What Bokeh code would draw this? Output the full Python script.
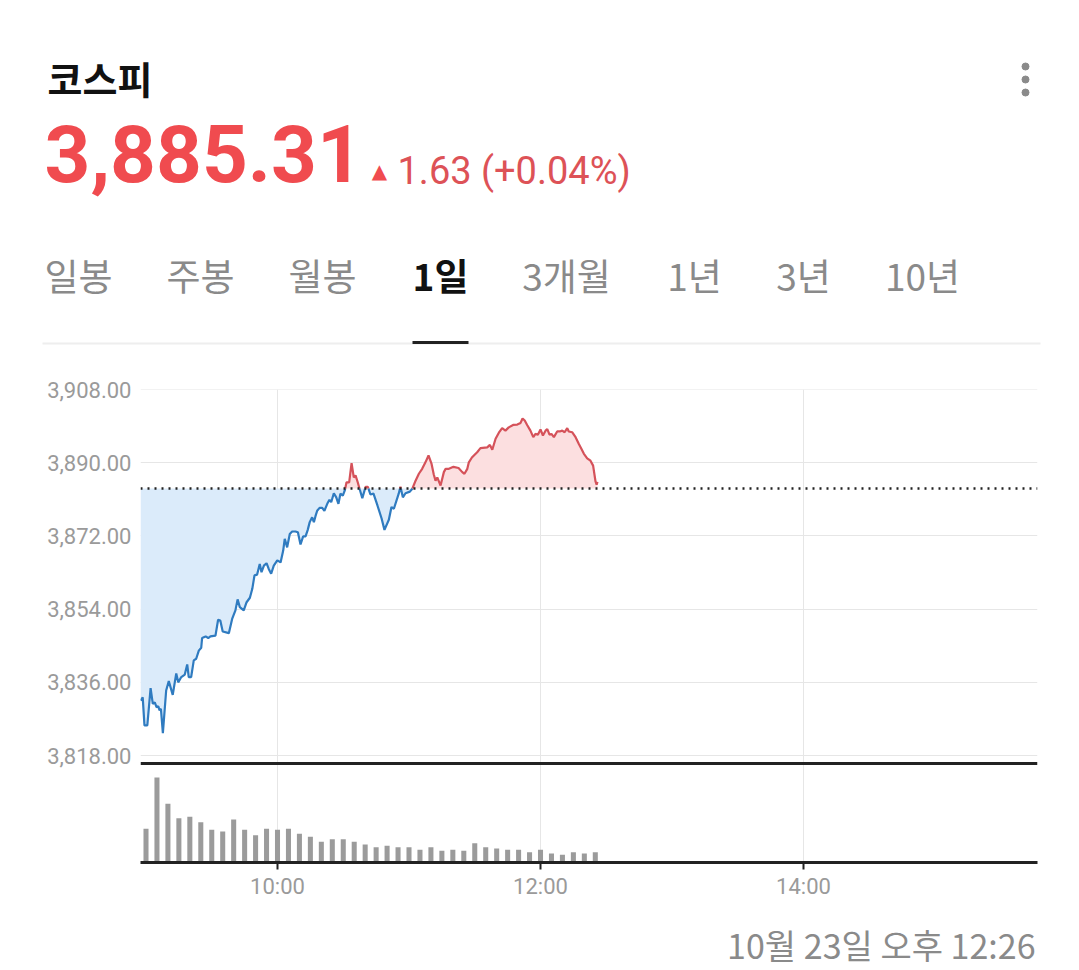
import numpy as np
from bokeh.plotting import figure
from bokeh.models import Range1d, FixedTicker, NumeralTickFormatter, Span, Label
from bokeh.embed import file_html
from bokeh.resources import INLINE

# ---------------- data ----------------
title = "코스피"
last_price = "3,885.31"
change_text = "1.63 (+0.04%)"
prev_close = 3883.68
tabs = ["일봉", "주봉", "월봉", "1일", "3개월", "1년", "3년", "10년"]
active_tab = "1일"
timestamp = "10월 23일 오후 12:26"

# minutes elapsed since 09:00 and KOSPI index level
minutes = [-2.5, -1.5, -0.7, 0.6, 2.1, 3.1, 4.0, 4.8, 5.6, 6.2, 6.8, 7.7, 9.2, 10.4, 12.2,
           13.8, 14.7, 16.1, 17.7, 18.8, 19.5, 20.6, 21.8, 22.9, 24.1, 25.2, 25.6, 27.2, 28.4,
           29.4, 31.7, 32.9, 33.9, 35.0, 37.8, 39.3, 40.8, 41.8, 42.8, 44.6, 45.9, 47.4, 48.5,
           49.5, 50.7, 51.9, 52.7, 53.8, 55.0, 56.0, 57.1, 58.3, 59.9, 61.4, 62.6, 63.3, 64.4,
           65.6, 66.7, 68.2, 69.3, 70.5, 71.7, 72.8, 73.8, 74.7, 75.8, 76.6, 77.3, 78.1, 79.2,
           80.4, 81.4, 82.7, 83.7, 84.5, 85.7, 86.8, 87.8, 88.7, 89.8, 90.7, 91.5, 92.7, 93.8,
           94.8, 95.6, 96.6, 97.6, 98.7, 100.2, 101.2, 102.4, 103.8, 105.6, 107.5, 108.8, 110.8,
           112.0, 113.1, 115.3, 116.1, 117.2, 118.4, 120.4, 121.5, 123.0, 124.5, 126.0, 127.5,
           128.9, 130.3, 131.3, 132.1, 132.9, 134.4, 135.9, 136.7, 138.2, 140.3, 142.6, 144.3,
           145.3, 146.6, 147.3, 148.7, 149.6, 151.1, 152.6, 155.7, 156.9, 158.0, 159.5, 161.0,
           162.5, 164.0, 165.5, 167.5, 169.4, 170.9, 171.8, 172.8, 173.9, 175.4, 176.7, 177.7,
           178.8, 180.0, 181.1, 182.3, 183.1, 184.1, 185.0, 186.1, 187.6, 188.8, 189.9, 191.0,
           192.2, 192.9, 194.5, 196.0, 197.5, 198.7, 199.8, 201.3, 202.8, 204.0, 205.1, 205.6,
           206.0]
price = [3831.5, 3832.3, 3825.4, 3825.4, 3834.6, 3830.7, 3831.1, 3829.9, 3830.1, 3829.1, 3829.5,
         3823.5, 3834.0, 3836.3, 3832.9, 3838.2, 3836.0, 3837.3, 3837.9, 3840.4, 3837.3, 3837.3,
         3841.4, 3841.8, 3843.8, 3844.5, 3846.9, 3847.3, 3846.9, 3847.3, 3847.5, 3851.4, 3851.2,
         3848.5, 3848.1, 3851.6, 3853.7, 3856.4, 3854.5, 3853.7, 3855.7, 3856.8, 3859.0, 3862.3,
         3862.5, 3865.1, 3863.1, 3864.7, 3865.3, 3863.9, 3862.7, 3864.7, 3866.0, 3865.5, 3868.4,
         3871.3, 3869.2, 3872.5, 3873.1, 3873.1, 3872.9, 3869.9, 3871.9, 3871.9, 3873.5, 3875.4,
         3876.6, 3875.4, 3876.8, 3878.2, 3878.9, 3878.9, 3878.2, 3879.9, 3880.9, 3880.3, 3882.5,
         3881.5, 3879.9, 3882.4, 3881.9, 3883.2, 3885.2, 3885.2, 3889.9, 3886.4, 3886.9, 3885.2,
         3883.3, 3881.3, 3884.1, 3884.1, 3882.2, 3882.4, 3879.5, 3876.3, 3873.5, 3876.0, 3879.1,
         3878.7, 3882.4, 3884.1, 3881.5, 3882.5, 3882.9, 3883.6, 3885.6, 3887.3, 3888.5, 3890.1,
         3891.8, 3889.7, 3887.1, 3885.6, 3886.4, 3884.4, 3887.7, 3888.5, 3888.5, 3889.0, 3888.7,
         3887.7, 3887.3, 3888.5, 3890.1, 3891.3, 3891.8, 3892.6, 3893.6, 3893.8, 3894.4, 3893.2,
         3895.9, 3897.4, 3898.5, 3897.9, 3898.7, 3899.3, 3899.4, 3899.8, 3900.9, 3900.4, 3899.3,
         3897.9, 3896.3, 3897.1, 3896.9, 3898.2, 3896.7, 3897.9, 3898.3, 3896.9, 3897.1, 3896.3,
         3897.7, 3897.7, 3897.9, 3897.5, 3898.5, 3897.7, 3897.5, 3896.3, 3894.6, 3893.4, 3892.2,
         3891.1, 3890.5, 3889.3, 3885.4, 3884.6, 3885.31]

# 5-minute volume buckets (minutes since 09:00), relative units
vol_minutes = [0, 5, 10, 15, 20, 25, 30, 35, 40, 45, 50, 55, 60, 65, 70, 75, 80, 85, 90, 95, 100,
               105, 110, 115, 120, 125, 130, 135, 140, 145, 150, 155, 160, 165, 170, 175, 180,
               185, 190, 195, 200, 205]
volume = [33700, 85000, 58700, 44300, 45700, 40300, 32700, 31000, 43000, 32700, 27300, 33700,
          32700, 33700, 28700, 25700, 20700, 23300, 23300, 20700, 18000, 15300, 16700, 15300,
          15300, 12700, 15300, 11700, 12700, 11700, 19300, 15300, 14000, 12700, 12700, 10300,
          12700, 9000, 7700, 10300, 9000, 10300]
volume_panel_top = 99000

y_ticks = [3818, 3836, 3854, 3872, 3890, 3908]
x_ticks = [60, 180, 300]
x_tick_labels = ["10:00", "12:00", "14:00"]

# ---------------- styles ----------------
W = 1079
KR = "Noto Sans CJK KR"
NUM = "Roboto"
RED_BIG = "#f04b4f"
RED_TXT = "#dd5257"
GRAY_TXT = "#8a8a8a"
AXIS_TXT = "#9a9a9a"
BLUE_LINE = "#2f7bc0"
BLUE_FILL = "#dbebfa"
RED_LINE = "#d5525a"
RED_FILL = "#fcdfe0"
GRID = "#e6e6e6"


def blank(top, bottom):
    f = figure(width=W, height=bottom - top, x_range=Range1d(0, W), y_range=Range1d(bottom, top),
               x_axis_location=None, y_axis_location=None, toolbar_location=None,
               output_backend="svg", min_border=0, outline_line_color=None)
    f.grid.visible = False
    f.background_fill_color = "white"
    f.border_fill_color = "white"
    return f


# ---------------- header ----------------
hd = blank(0, 370)
hd.add_layout(Label(x=47, y=77, text=title, text_font=KR, text_font_size="38px",
                    text_font_style="bold", text_color="#111111", text_align="left",
                    text_baseline="middle"))
hd.add_layout(Label(x=44, y=153, text=last_price, text_font=NUM, text_font_size="80px",
                    text_font_style="bold", text_color=RED_BIG, text_align="left",
                    text_baseline="middle"))
hd.add_layout(Label(x=379, y=170, text="▲", text_font="DejaVu Sans", text_font_size="20px",
                    text_color=RED_BIG, text_align="center", text_baseline="middle"))
hd.add_layout(Label(x=397, y=170, text=change_text, text_font=NUM, text_font_size="38px",
                    text_color=RED_TXT, text_align="left", text_baseline="middle"))
hd.scatter(x=[1025, 1025, 1025], y=[66, 79, 92], size=7, color="#8a8a8a")

tab_x = [78, 200, 322, 440, 566, 694, 803, 922]
for tx, name in zip(tab_x, tabs):
    act = name == active_tab
    hd.add_layout(Label(x=tx, y=274, text=name, text_font=KR, text_font_size="37px",
                        text_font_style="bold" if act else "normal",
                        text_color="#111111" if act else GRAY_TXT,
                        text_align="center", text_baseline="middle"))
hd.segment(x0=[42], y0=[343], x1=[1040], y1=[343], line_color="#eeeeee", line_width=2)
hd.segment(x0=[412], y0=[342], x1=[468], y1=[342], line_color="#222222", line_width=3)

# ---------------- price + volume panel ----------------
PX_PER_UNIT = 4.0667
frame_h = 473
y_top = 3908.0
p = figure(width=W, height=532, x_range=Range1d(-2.51, 406.76),
           y_range=Range1d(y_top - frame_h / PX_PER_UNIT, y_top + 0.02),
           x_axis_location="below", y_axis_location="left", toolbar_location=None,
           output_backend="svg", min_border_left=140, min_border_right=42,
           min_border_top=19, min_border_bottom=40, outline_line_color=None)
p.extra_y_ranges = {"vol": Range1d(0, volume_panel_top * frame_h / 99)}
p.background_fill_color = "white"
p.border_fill_color = "white"

p.ygrid.ticker = FixedTicker(ticks=y_ticks)
p.ygrid.grid_line_color = GRID
p.xgrid.ticker = FixedTicker(ticks=x_ticks)
p.xgrid.grid_line_color = GRID
p.xgrid.bounds = (y_ticks[0] - 1.5, y_ticks[-1])

ya = p.yaxis[0]
ya.ticker = FixedTicker(ticks=y_ticks)
ya.formatter = NumeralTickFormatter(format="0,0.00")
ya.axis_line_color = None
ya.major_tick_line_color = None
ya.major_tick_out = 0
ya.major_tick_in = 0
ya.minor_tick_line_color = None
ya.major_label_standoff = 9
ya.major_label_text_font = NUM
ya.major_label_text_font_size = "22px"
ya.major_label_text_color = AXIS_TXT

xa = p.xaxis[0]
xa.ticker = FixedTicker(ticks=x_ticks)
xa.major_label_overrides = dict(zip(x_ticks, x_tick_labels))
xa.axis_line_color = "#222222"
xa.axis_line_width = 3
xa.major_tick_in = 0
xa.major_tick_out = 7
xa.major_tick_line_width = 2
xa.major_tick_line_color = "#222222"
xa.minor_tick_line_color = None
xa.major_label_standoff = 4
xa.major_label_text_font = NUM
xa.major_label_text_font_size = "22px"
xa.major_label_text_color = AXIS_TXT

t = np.array(minutes, dtype=float)
v = np.array(price, dtype=float)
xs, ys = [t[0]], [v[0]]
for i in range(1, len(t)):
    a, b = v[i - 1] - prev_close, v[i] - prev_close
    if a * b < 0:
        xs.append(t[i - 1] + (t[i] - t[i - 1]) * a / (a - b))
        ys.append(prev_close)
    xs.append(t[i])
    ys.append(v[i])
xs = np.array(xs)
ys = np.array(ys)
base = np.full_like(ys, prev_close)
p.varea(x=xs, y1=base, y2=np.minimum(ys, prev_close), fill_color=BLUE_FILL)
p.varea(x=xs, y1=base, y2=np.maximum(ys, prev_close), fill_color=RED_FILL)
p.add_layout(Span(location=prev_close, dimension="width", line_color="#222222",
                  line_width=2.5, line_dash="2 5"))
p.line(xs, np.where(ys <= prev_close, ys, np.nan), line_color=BLUE_LINE, line_width=2.2)
p.line(xs, np.where(ys >= prev_close, ys, np.nan), line_color=RED_LINE, line_width=2.2)

p.vbar(x=vol_minutes, top=volume, width=2.3, fill_color="#9b9b9b", line_color=None,
       y_range_name="vol")
p.add_layout(Span(location=volume_panel_top, dimension="width", line_color="#222222",
                  line_width=3, y_range_name="vol"))

# ---------------- footer ----------------
ft = blank(902, 970)
ft.add_layout(Label(x=1035, y=944, text=timestamp, text_font=KR, text_font_size="34px",
                    text_color=GRAY_TXT, text_align="right", text_baseline="middle"))

open("out.html", "w").write(file_html([hd, p, ft], INLINE))
